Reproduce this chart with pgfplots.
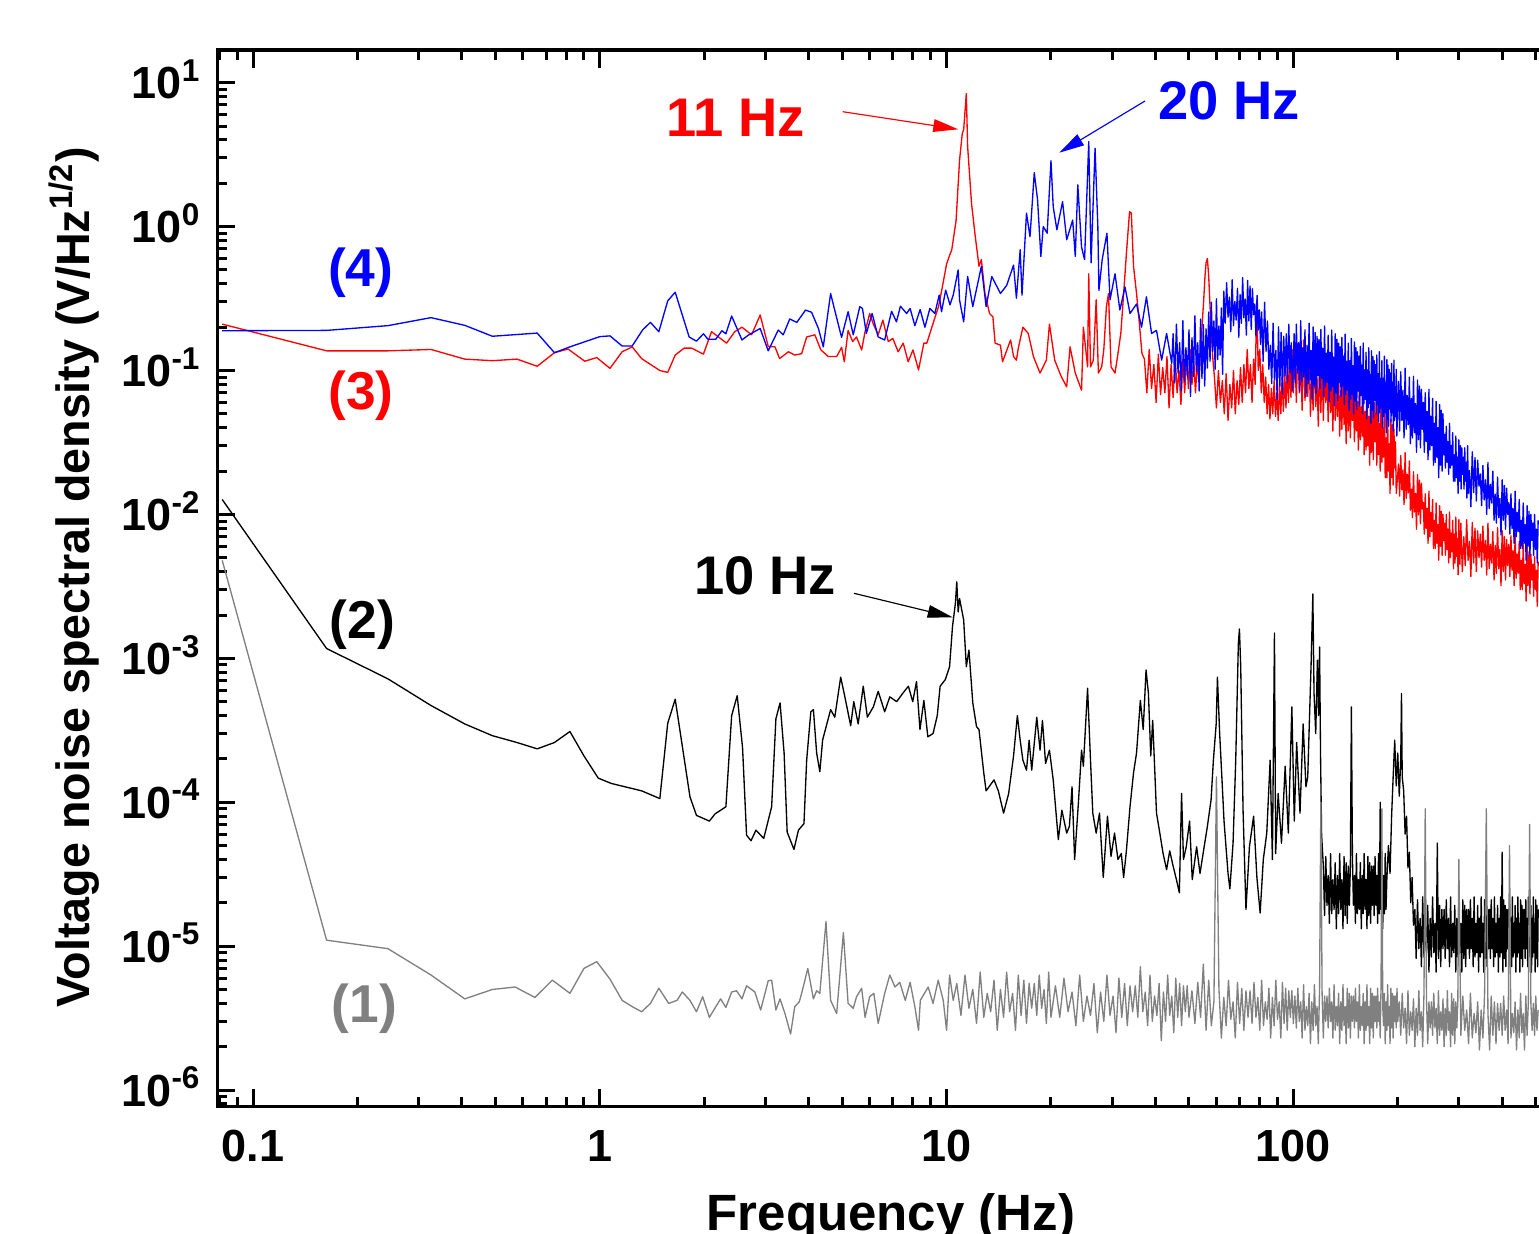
\documentclass[border=0pt]{standalone}
\usepackage{pgfplots}
\pgfplotsset{compat=1.18}
\usepackage{fontspec}
\setmainfont{Liberation Sans}
\usetikzlibrary{arrows.meta}
\definecolor{sgray}{RGB}{128,128,128}
\begin{document}
\begin{tikzpicture}
\begin{axis}[
  at={(0pt,0pt)}, anchor=south west,
  scale only axis, width=398.31pt, height=317.01pt,
  xmode=log, ymode=log,
  xmin=0.0789, xmax=531.6, ymin=7.66e-7, ymax=16.87,
  axis line style={line width=1pt},
  tick align=inside,
  major tick length=5.4pt, minor tick length=3pt,
  tick style={black, line width=0.9pt},
  ytick pos=left,
  xtick={0.1,1,10,100}, xticklabels={0.1,1,10,100},
  ytick={1e-6,1e-5,1e-4,1e-3,1e-2,1e-1,1,10},
  yticklabels={{10\textsuperscript{-6}},{10\textsuperscript{-5}},{10\textsuperscript{-4}},{10\textsuperscript{-3}},{10\textsuperscript{-2}},{10\textsuperscript{-1}},{10\textsuperscript{0}},{10\textsuperscript{1}}},
  minor xtick={0.08,0.09,0.2,0.3,0.4,0.5,0.6,0.7,0.8,0.9,2,3,4,5,6,7,8,9,20,30,40,50,60,70,80,90,200,300,400,500},
  minor ytick={8e-7,9e-7,2e-6,3e-6,4e-6,5e-6,6e-6,7e-6,8e-6,9e-6,2e-5,3e-5,4e-5,5e-5,6e-5,7e-5,8e-5,9e-5,2e-4,3e-4,4e-4,5e-4,6e-4,7e-4,8e-4,9e-4,2e-3,3e-3,4e-3,5e-3,6e-3,7e-3,8e-3,9e-3,0.02,0.03,0.04,0.05,0.06,0.07,0.08,0.09,0.2,0.3,0.4,0.5,0.6,0.7,0.8,0.9,2,3,4,5,6,7,8,9},
  ticklabel style={font=\fontsize{13.5}{16}\selectfont\bfseries},
  xticklabel style={anchor=base, yshift=-16.3pt},
  yticklabel style={anchor=base east, yshift=-4.83pt, xshift=-1.3pt},
  xlabel={Frequency (Hz)},
  xlabel style={at={(axis description cs:0.5074,-0.1167)}, anchor=base, font=\fontsize{15.3}{18}\selectfont\bfseries},
  ylabel={Voltage noise spectral density (V/Hz\textsuperscript{1/2})},
  ylabel style={at={(axis description cs:-0.0959,0.5008)}, rotate=0, anchor=base, font=\fontsize{14}{17}\selectfont\bfseries},
  every axis plot/.append style={mark=none, line width=0.4pt, line join=round},
]
% (2) black
\addplot[black] coordinates {
(0.0815,0.0127)(0.163,0.00117)(0.245,7.2e-4)(0.326,4.7e-4)(0.408,3.5e-4)(0.49,2.9e-4)(0.577,2.6e-4)(0.66,2.35e-4)(0.74,2.6e-4)(0.82,3.1e-4)(0.9,2.1e-4)(0.99,1.47e-4)(1.08,1.35e-4)(1.32,1.2e-4)(1.49,1.06e-4)(1.57,3.54e-4)(1.65,5.2e-4)(1.82,1.09e-4)(1.9,8.1e-5)(2.07,7.4e-5)(2.15,8.3e-5)(2.31,9.3e-5)(2.4,4.0e-4)(2.49,5.5e-4)(2.58,2.4e-4)(2.65,5.9e-5)(2.73,5.4e-5)(2.82,6.4e-5)(2.97,5.6e-5)(3.13,9.3e-5)(3.22,3.8e-4)(3.31,4.9e-4)(3.4,2.2e-4)(3.47,6.2e-5)(3.63,4.7e-5)(3.74,6.4e-5)(3.88,7.1e-5)(3.95,1.96e-4)(4.06,4.25e-4)(4.13,4.4e-4)(4.22,2.2e-4)(4.31,1.63e-4)(4.39,2.7e-4)(4.63,4.4e-4)(4.76,3.9e-4)(4.95,7.4e-4)(5.09,5.4e-4)(5.29,3.4e-4)(5.4,5.0e-4)(5.56,3.5e-4)(5.75,6.4e-4)(5.91,3.9e-4)(6.15,4.6e-4)(6.35,5.9e-4)(6.63,4.25e-4)(6.86,5.4e-4)(7.18,5.0e-4)(7.47,5.7e-4)(7.76,6.4e-4)(7.99,5.0e-4)(8.19,6.9e-4)(8.38,3.2e-4)(8.6,5.1e-4)(8.83,2.85e-4)(9.14,3.0e-4)(9.4,4.0e-4)(9.58,6.4e-4)(9.91,7.1e-4)(10.2,8.75e-4)(10.4,1.66e-3)(10.6,2.4e-3)(10.7,3.4e-3)(10.8,2.1e-3)(10.9,2.6e-3)(11.2,1.85e-3)(11.4,8.75e-4)(11.6,1.14e-3)(11.9,4.9e-4)(12.2,3.35e-4)(12.4,3.2e-4)(12.8,1.6e-4)(13.0,1.2e-4)(13.7,1.43e-4)(14.1,1.2e-4)(14.6,8.4e-5)(15.1,1.15e-4)(15.6,2.1e-4)(16.0,4.0e-4)(16.3,2.7e-4)(16.6,1.96e-4)(17.0,1.67e-4)(17.3,2.7e-4)(17.6,1.67e-4)(18.2,3.9e-4)(18.6,2.3e-4)(18.9,3.7e-4)(19.3,1.86e-4)(19.8,2.3e-4)(20.3,1.43e-4)(21.0,5.5e-5)(21.5,8.8e-5)(22.2,6.1e-5)(22.6,6.8e-5)(23.0,1.28e-4)(23.4,4.0e-5)(24.0,1.0e-4)(24.5,2.3e-4)(24.8,1.78e-4)(25.5,6.2e-4)(26.0,1.96e-4)(26.4,8.4e-5)(27.0,6.1e-5)(27.6,8.4e-5)(28.3,3.0e-5)(29.1,8.0e-5)(29.8,4.2e-5)(30.5,6.1e-5)(31.2,4.0e-5)(31.9,4.4e-5)(32.4,3.0e-5)(33.0,4.6e-5)(33.8,9.3e-5)(34.6,1.6e-4)(35.3,2.2e-4)(36.2,5.1e-4)(36.9,3.2e-4)(37.6,8.3e-4)(38.2,5.7e-4)(38.8,2.1e-4)(39.3,3.7e-4)(39.8,1.78e-4)(40.3,8.4e-5)(41.2,6.1e-5)(42.1,4.4e-5)(43.1,3.4e-5)(44.0,4.6e-5)(45.0,3.6e-5)(46.0,2.9e-5)(46.9,2.35e-5)(47.6,1.15e-4)(48.2,4.0e-5)(49.1,4.9e-5)(50.2,7.4e-5)(51.1,2.9e-5)(52.6,4.9e-5)(53.8,3.2e-5)(55.3,4.9e-5)(56.5,6.8e-5)(57.9,1.04e-4)(58.8,1.96e-4)(59.9,3.5e-4)(60.4,7.4e-4)(61.3,3.0e-4)(62.4,1.28e-4)(63.1,7.4e-5)(64.8,3.2e-5)(65.6,2.5e-5)(67.0,5.2e-5)(68.2,1.96e-4)(69.4,1.27e-3)(69.9,1.6e-3)(70.5,8.75e-4)(71.6,8.8e-5)(73.0,1.8e-5)(74.7,4.9e-5)(76.8,8.0e-5)(78.5,3.0e-5)(80.2,1.7e-5)(81.9,4.0e-5)(83.8,6.1e-5)(85.7,1.96e-4)(87.0,4.0e-5)(88.2,1.5e-3)(88.9,4.4e-5)(90.4,1.15e-4)(92.4,5.2e-5)(94.7,1.78e-4)(96.7,6.1e-5)(99,4.6e-4)(100.6,7.4e-5)(102.2,2.6e-4)(104.5,8.4e-5)(106.7,3.5e-4)(108.7,1.28e-4)(110,1.5e-4)(112.5,9.2e-4)(113.8,2.8e-3)(114.7,5.7e-4)(116,3.0e-4)(117.3,9.7e-4)(118.2,4e-4)(119,1.2e-3)(119.8,2e-4)(120.6,6e-5)
(122,3.6e-5)(123,1.63e-5)(124,4.2e-5)(125,1.92e-5)(126,3.1e-5)(127,1.44e-5)(128,4.4e-5)(129,1.68e-5)(130,2.9e-5)(131,1.8e-5)(132,3.8e-5)(133,1.32e-5)
(134,3.1e-5)(135,1.68e-5)(136,4.4e-5)(137,1.8e-5)(138,2.9e-5)(139,1.32e-5)(140,4.2e-5)(141,1.63e-5)(142,3.8e-5)(143,1.44e-5)(144,3.6e-5)(145,1.92e-5)
(146,3.6e-5)(147,4.6e-4)(148,4.2e-5)(149,1.92e-5)(150,3.1e-5)(151,1.44e-5)(152,4.4e-5)(153,1.68e-5)(154,2.9e-5)(155,1.8e-5)(156,3.8e-5)(157,1.32e-5)
(158,3.1e-5)(159,1.68e-5)(160,4.4e-5)(161,1.8e-5)(162,2.9e-5)(163,1.32e-5)(164,4.2e-5)(165,1.63e-5)(166,3.8e-5)(167,1.44e-5)(168,3.6e-5)(169,1.92e-5)
(170,3.6e-5)(171,1.63e-5)(172,4.2e-5)(173,1.92e-5)(174,3.1e-5)(175,1.44e-5)(176,4.4e-5)(177,1.68e-5)(178,1.0e-4)(179,1.8e-5)(180,3.8e-5)(181,1.32e-5)
(182,3.1e-5)(183,1.68e-5)(184,4.4e-5)(185,1.8e-5)(186,2.9e-5)
(188,5e-5)(190,3.2e-5)(192,8e-5)(194,1.5e-4)(196,2.7e-4)(198,1.3e-4)(200,2.2e-4)(202,1.1e-4)(204,2e-4)(205,5.7e-4)(206,1.5e-4)(208,1.2e-4)(210,6e-5)(212,8e-5)(214,3.5e-5)(216,4.5e-5)(218,2e-5)(220,3e-5)(222,1.4e-5)
(224,1.8e-5)(226,0.82e-5)(228,2.1e-5)(230,0.96e-5)(232,1.56e-5)(234,0.72e-5)(236,2.2e-5)(238,0.84e-5)(240,1.44e-5)(242,0.9e-5)(244,1.92e-5)(246,0.66e-5)
(248,1.56e-5)(250,0.84e-5)(252,2.2e-5)(254,0.9e-5)(256,1.44e-5)(258,0.66e-5)(260,5.2e-5)(262,0.82e-5)(264,1.92e-5)(266,0.72e-5)(268,1.8e-5)(270,0.96e-5)
(272,1.8e-5)(274,0.82e-5)(276,2.1e-5)(278,0.96e-5)(280,1.56e-5)(282,0.72e-5)(284,2.2e-5)(286,0.84e-5)(288,1.44e-5)(290,0.9e-5)(292,1.92e-5)(294,0.66e-5)
(296,1.56e-5)(298,0.84e-5)(300,2.2e-5)(302,0.9e-5)(304,1.44e-5)(306,0.66e-5)(308,2.1e-5)(310,0.82e-5)(312,1.92e-5)(314,0.72e-5)(316,1.8e-5)(318,0.96e-5)
(320,1.8e-5)(322,0.82e-5)(324,2.1e-5)(326,0.96e-5)(328,1.56e-5)(330,0.72e-5)(332,2.2e-5)(334,0.84e-5)(336,1.44e-5)(338,0.9e-5)(340,1.92e-5)(342,0.66e-5)
(344,1.56e-5)(346,0.84e-5)(348,2.2e-5)(350,0.9e-5)(352,1.44e-5)(354,0.66e-5)(356,2.1e-5)(358,0.82e-5)(360,1.92e-5)(362,0.72e-5)(364,1.8e-5)(366,0.96e-5)
(368,1.8e-5)(370,0.82e-5)(372,2.1e-5)(374,0.96e-5)(376,1.56e-5)(378,0.72e-5)(380,2.2e-5)(382,0.84e-5)(384,1.44e-5)(386,0.9e-5)(388,1.92e-5)(390,0.66e-5)
(392,1.56e-5)(394,0.84e-5)(396,2.2e-5)(398,0.9e-5)(400,4.5e-5)(402,0.66e-5)(404,2.1e-5)(406,0.82e-5)(408,1.92e-5)(410,0.72e-5)(412,1.8e-5)(414,0.96e-5)
(416,1.8e-5)(418,0.82e-5)(420,2.1e-5)(422,0.96e-5)(424,1.56e-5)(426,0.72e-5)(428,2.2e-5)(430,0.84e-5)(432,1.44e-5)(434,0.9e-5)(436,1.92e-5)(438,0.66e-5)
(440,1.56e-5)(442,0.84e-5)(444,2.2e-5)(446,0.9e-5)(448,1.44e-5)(450,0.66e-5)(452,2.1e-5)(454,0.82e-5)(456,1.92e-5)(458,0.72e-5)(460,1.8e-5)(462,0.96e-5)
(464,1.8e-5)(466,0.82e-5)(468,2.1e-5)(470,0.96e-5)(472,1.56e-5)(474,0.72e-5)(476,2.2e-5)(478,0.84e-5)(480,1.44e-5)(482,0.9e-5)(484,1.92e-5)(486,0.66e-5)
(488,1.56e-5)(490,0.84e-5)(492,2.2e-5)(494,0.9e-5)(496,1.44e-5)(498,0.66e-5)(500,2.1e-5)(502,0.82e-5)(504,1.92e-5)(506,0.72e-5)(508,1.8e-5)
};
% (1) gray
\addplot[sgray] coordinates {
(0.0815,4.8e-3)(0.163,1.1e-5)(0.245,9.6e-6)(0.326,6.3e-6)(0.408,4.3e-6)(0.49,5.0e-6)(0.57,5.2e-6)(0.65,4.4e-6)(0.73,5.8e-6)(0.82,4.7e-6)(0.9,7.0e-6)(0.98,7.8e-6)(1.07,5.9e-6)(1.16,4.2e-6)(1.24,3.8e-6)(1.32,3.5e-6)(1.40,4.0e-6)(1.48,5.1e-6)(1.58,4.0e-6)(1.67,4.2e-6)(1.73,4.8e-6)(1.82,4.2e-6)(1.9,3.5e-6)(1.98,4.45e-6)(2.07,3.2e-6)(2.23,4.3e-6)(2.31,3.75e-6)(2.4,4.8e-6)(2.48,4.9e-6)(2.57,4.3e-6)(2.65,5.3e-6)(2.80,4.8e-6)(2.91,3.6e-6)(3.06,5.75e-6)(3.13,5.8e-6)(3.22,3.6e-6)(3.31,4.3e-6)(3.42,3.4e-6)(3.55,2.45e-6)(3.65,3.8e-6)(3.76,4.1e-6)(3.82,4.7e-6)(3.98,7.0e-6)(4.13,4.3e-6)(4.22,4.9e-6)(4.31,4.7e-6)(4.49,1.48e-5)(4.63,4.2e-6)(4.82,3.4e-6)(5.04,1.24e-5)(5.2,4.0e-6)(5.38,3.7e-6)(5.5,4.45e-6)(5.69,5.1e-6)(5.82,3.2e-6)(6.0,4.45e-6)(6.17,4.7e-6)(6.35,2.9e-6)(6.63,4.7e-6)(6.86,6.3e-6)(7.1,5.2e-6)(7.33,5.6e-6)(7.6,4.2e-6)(7.85,5.6e-6)(8.1,3.8e-6)(8.3,2.6e-6)(8.4,4.2e-6)(8.85,5.2e-6)(9.14,4.0e-6)(9.46,5.8e-6)(9.78,4.2e-6)(10.0,2.6e-6)(10.2,6.3e-6)(10.45,4.2e-6)
(10.7,5.5e-6)(11.0,3.3e-6)(11.3,6.3e-6)(11.6,3.7e-6)(11.9,5.0e-6)(12.2,2.9e-6)(12.5,6.6e-6)(12.8,3.2e-6)(13.1,4.7e-6)(13.4,3.5e-6)(13.7,5.8e-6)(14.0,2.6e-6)
(14.3,5.0e-6)(14.6,3.2e-6)(14.9,6.6e-6)(15.2,3.5e-6)(15.5,4.7e-6)(15.8,2.6e-6)(16.1,6.3e-6)(16.4,3.3e-6)(16.7,5.8e-6)(17.0,2.9e-6)(17.3,5.5e-6)(17.6,3.7e-6)
(17.9,5.5e-6)(18.2,3.3e-6)(18.5,6.3e-6)(18.8,3.7e-6)(19.1,5.0e-6)(19.4,2.9e-6)(19.7,6.6e-6)(20.0,3.2e-6)
(20.6,5.3e-6)(21.2,3.2e-6)(21.8,6.0e-6)(22.4,3.5e-6)(23.0,4.8e-6)(23.6,2.8e-6)(24.2,6.3e-6)(24.8,3.0e-6)(25.4,4.5e-6)(26.0,3.3e-6)(26.6,5.5e-6)(27.2,2.5e-6)
(27.8,4.8e-6)(28.4,3.0e-6)(29.0,6.3e-6)(29.6,3.3e-6)(30.2,4.5e-6)(30.8,2.5e-6)(31.4,6.0e-6)(32.0,3.2e-6)(32.6,5.5e-6)(33.2,2.8e-6)(33.8,5.3e-6)(34.4,3.5e-6)
(35.0,5.3e-6)(35.6,3.2e-6)(36.2,7.2e-6)(36.8,3.5e-6)(37.4,4.8e-6)(38.0,2.8e-6)(38.6,6.3e-6)(39.2,3.0e-6)(39.8,4.5e-6)(40.4,3.3e-6)(41.0,5.5e-6)(41.6,2.2e-6)
(42.2,4.8e-6)(42.8,3.0e-6)(43.4,6.3e-6)(44.0,3.3e-6)(44.6,4.5e-6)(45.2,2.5e-6)(45.8,6.0e-6)(46.4,3.2e-6)(47.0,5.5e-6)(47.6,2.8e-6)(48.2,5.3e-6)(48.8,3.5e-6)
(49.4,5.3e-6)(50.0,3.2e-6)
(51,4.9e-6)(52,2.9e-6)(53,5.6e-6)(54,3.2e-6)(55,7.5e-6)(56,2.6e-6)(57,5.8e-6)(58,2.8e-6)(59,4.1e-6)(60,1.5e-4)(61,5.1e-6)(62,2.3e-6)
(63,4.4e-6)(64,2.8e-6)(65,5.8e-6)(66,3.1e-6)(67,4.1e-6)(68,2.3e-6)(69,5.6e-6)(70,2.9e-6)(71,5.1e-6)(72,2.6e-6)(73,4.9e-6)(74,3.2e-6)
(75,4.9e-6)(76,2.9e-6)(77,5.6e-6)(78,3.2e-6)(79,4.4e-6)(80,2.6e-6)(81,5.8e-6)(82,2.8e-6)(83,4.1e-6)(84,3.1e-6)(85,5.1e-6)(86,2.3e-6)
(87,4.4e-6)(88,2.8e-6)(89,5.8e-6)(90,3.1e-6)(91,4.1e-6)(92,2.3e-6)(93,5.6e-6)(94,2.9e-6)(95,5.1e-6)(96,2.6e-6)(97,4.9e-6)(98,3.2e-6)
(99,4.9e-6)(100,2.9e-6)
(101,4.5e-6)(102,2.7e-6)(103,5.1e-6)(104,3.0e-6)(105,4.1e-6)(106,2.3e-6)(107,5.4e-6)(108,2.6e-6)(109,3.8e-6)(110,2.8e-6)(111,4.7e-6)(112,2.1e-6)
(113,4.1e-6)(114,2.6e-6)(115,5.4e-6)(116,2.8e-6)(117,3.8e-6)(118,2.1e-6)(119,5.1e-6)(120,1.0e-4)(121,4.7e-6)(122,2.3e-6)(123,4.5e-6)(124,3.0e-6)
(125,4.5e-6)(126,2.7e-6)(127,5.1e-6)(128,3.0e-6)(129,4.1e-6)(130,2.3e-6)(131,5.4e-6)(132,2.6e-6)(133,3.8e-6)(134,2.8e-6)(135,4.7e-6)(136,2.1e-6)
(137,4.1e-6)(138,2.6e-6)(139,5.4e-6)(140,2.8e-6)(141,3.8e-6)(142,2.1e-6)(143,5.1e-6)(144,2.7e-6)(145,4.7e-6)(146,2.3e-6)(147,4.5e-6)(148,3.0e-6)
(149,4.5e-6)(150,2.7e-6)(151,5.1e-6)(152,3.0e-6)(153,4.1e-6)(154,2.3e-6)(155,5.4e-6)(156,2.6e-6)(157,3.8e-6)(158,2.8e-6)(159,4.7e-6)(160,2.1e-6)
(161,4.1e-6)(162,2.6e-6)(163,5.4e-6)(164,2.8e-6)(165,3.8e-6)(166,2.1e-6)(167,5.1e-6)(168,2.7e-6)(169,4.7e-6)(170,2.3e-6)(171,4.5e-6)(172,3.0e-6)
(173,4.5e-6)(174,2.7e-6)(175,5.1e-6)(176,3.0e-6)(177,4.1e-6)(178,2.3e-6)(179,5.4e-6)(180,9.0e-5)(181,3.8e-6)(182,2.8e-6)(183,4.7e-6)(184,2.1e-6)
(185,4.1e-6)(186,2.6e-6)(187,5.4e-6)(188,2.8e-6)(189,3.8e-6)(190,2.1e-6)(191,5.1e-6)(192,2.7e-6)(193,4.7e-6)(194,2.3e-6)(195,4.5e-6)(196,3.0e-6)
(197,4.5e-6)(198,2.7e-6)(199,5.1e-6)(200,3.0e-6)
(202,4.1e-6)(204,2.4e-6)(206,4.7e-6)(208,2.7e-6)(210,3.7e-6)(212,2.1e-6)(214,4.9e-6)(216,2.4e-6)(218,3.5e-6)(220,2.6e-6)(222,4.3e-6)(224,2.0e-6)
(226,3.7e-6)(228,2.4e-6)(230,4.9e-6)(232,2.6e-6)(234,3.5e-6)(236,2.0e-6)(238,4.7e-6)(240,9.0e-5)(242,4.3e-6)(244,2.1e-6)(246,4.1e-6)(248,2.7e-6)
(250,4.1e-6)(252,2.4e-6)(254,4.7e-6)(256,2.7e-6)(258,3.7e-6)(260,2.1e-6)(262,4.9e-6)(264,2.4e-6)(266,3.5e-6)(268,2.6e-6)(270,4.3e-6)(272,2.0e-6)
(274,3.7e-6)(276,2.4e-6)(278,4.9e-6)(280,2.6e-6)(282,3.5e-6)(284,2.0e-6)(286,4.7e-6)(288,2.4e-6)(290,4.3e-6)(292,2.1e-6)(294,4.1e-6)(296,2.7e-6)
(298,4.1e-6)(300,4.0e-5)(304,2.4e-6)(308,4.5e-6)(312,2.6e-6)(316,3.6e-6)(320,2.1e-6)(324,4.7e-6)(328,2.3e-6)(332,3.4e-6)(336,2.5e-6)(340,4.1e-6)(344,1.9e-6)
(348,3.6e-6)(352,2.3e-6)(356,4.7e-6)(360,9.0e-5)(364,3.4e-6)(368,1.9e-6)(372,4.5e-6)(376,2.4e-6)(380,4.1e-6)(384,2.1e-6)(388,4.0e-6)(392,2.6e-6)
(396,4.0e-6)(400,2.4e-6)(404,4.5e-6)(408,2.6e-6)(412,3.6e-6)(416,2.1e-6)(420,5.0e-5)(424,2.3e-6)(428,3.4e-6)(432,2.5e-6)(436,4.1e-6)(440,1.9e-6)
(444,3.6e-6)(448,2.3e-6)(452,4.7e-6)(456,2.5e-6)(460,3.4e-6)(464,1.9e-6)(468,4.5e-6)(472,2.4e-6)(476,4.1e-6)(480,7.0e-5)(484,4.0e-6)(488,2.6e-6)
(492,4.0e-6)(496,2.4e-6)(500,4.5e-6)(504,2.6e-6)(508,3.6e-6)
};
% (3) red
\addplot[red] coordinates {
(0.0815,0.21)(0.163,0.137)(0.245,0.137)(0.326,0.14)(0.408,0.12)(0.49,0.117)(0.577,0.12)(0.66,0.107)(0.74,0.133)(0.81,0.141)(0.905,0.116)(0.98,0.123)(1.07,0.1035)(1.16,0.135)(1.24,0.146)(1.32,0.121)(1.41,0.109)(1.49,0.1)(1.57,0.097)(1.65,0.128)(1.75,0.143)(1.84,0.143)(1.99,0.13)(2.10,0.186)(2.20,0.171)(2.32,0.155)(2.45,0.186)(2.57,0.2)(2.74,0.177)(2.90,0.243)(3.06,0.147)(3.2,0.146)(3.3,0.121)(3.5,0.135)(3.65,0.128)(3.82,0.131)(3.95,0.171)(4.17,0.177)(4.34,0.139)(4.56,0.125)(4.82,0.125)(4.98,0.145)(5.07,0.115)(5.2,0.19)(5.36,0.159)(5.5,0.171)(5.69,0.139)(5.82,0.186)(6.0,0.249)(6.15,0.21)(6.35,0.177)(6.55,0.224)(6.79,0.159)(7.0,0.167)(7.25,0.135)(7.5,0.155)(7.75,0.115)(8.0,0.139)(8.3,0.101)(8.6,0.155)(8.77,0.155)(9.07,0.2)(9.27,0.236)(9.48,0.278)(9.76,0.4)(10.0,0.55)(10.2,0.63)(10.35,0.69)(10.65,1.1)(10.9,2.9)(11.1,4.45)(11.2,4.7)(11.4,8.4)(11.5,3.6)(11.8,1.45)(12.1,0.85)(12.4,0.53)(12.6,0.59)(12.9,0.343)(13.3,0.249)(13.6,0.236)(13.8,0.155)(14.3,0.15)(14.5,0.115)(15.1,0.15)(15.3,0.163)(15.6,0.125)(15.9,0.118)(16.1,0.143)(16.6,0.2)(17.2,0.181)(17.8,0.125)(18.6,0.096)(19.4,0.118)(19.8,0.21)(20.5,0.118)(21.4,0.091)(22.2,0.077)(22.7,0.146)(23.5,0.096)(24.5,0.073)(24.8,0.2)(25.5,0.106)(25.7,0.47)(26.0,0.106)(26.5,0.118)(27.0,0.31)(27.4,0.096)(28.0,0.106)(28.4,0.139)(28.9,0.278)(29.3,0.343)(29.8,0.106)(30.6,0.096)(31.2,0.131)(31.8,0.181)(32.5,0.38)(33.0,0.65)(33.7,1.27)(34.1,1.24)(34.6,0.53)(35.3,0.343)(35.9,0.224)(36.6,0.131)
(37.2,0.12)(37.8,0.07)(38.4,0.14)(39.0,0.075)(39.6,0.11)(40.2,0.06)(40.8,0.13)(41.4,0.068)(42.0,0.105)(42.6,0.07)(43.2,0.125)(43.8,0.055)(44.4,0.11)(45.0,0.065)(45.6,0.13)(46.2,0.07)(46.8,0.1)(47.4,0.058)(48.0,0.12)(48.6,0.07)(49.2,0.13)(49.8,0.075)(50.4,0.14)(51.0,0.08)(51.6,0.12)(52.2,0.07)(52.8,0.11)(53.4,0.085)(54.0,0.15)(54.5,0.2)(55.1,0.3)(55.6,0.45)(56.0,0.56)(56.5,0.6)(57.0,0.45)(57.5,0.28)(58.0,0.18)(58.6,0.12)
(59.2,0.09)(60.0,0.055)(60.8,0.1)(61.6,0.06)(62.4,0.085)(63.2,0.05)(64.0,0.095)(64.8,0.045)(65.6,0.08)(66.4,0.055)(67.2,0.1)(68.0,0.05)(68.8,0.085)(69.6,0.058)(70.4,0.105)(71.2,0.06)(72.0,0.11)(72.8,0.07)(73.6,0.14)(74.4,0.075)(75.2,0.11)(76.0,0.06)(76.8,0.12)(77.6,0.08)(78.4,0.31)(79.2,0.1)(80.0,0.14)(80.8,0.07)(81.6,0.11)(82.4,0.06)(83.2,0.09)(84.0,0.05)(84.8,0.08)(85.6,0.046)(86.4,0.075)(87.2,0.05)(88.0,0.085)(88.8,0.048)(89.6,0.07)(90.4,0.045)(91.2,0.08)(92.0,0.05)(92.8,0.09)(93.6,0.052)(94.4,0.1)(95.2,0.055)(96.0,0.11)(96.8,0.06)(97.6,0.12)(98.4,0.065)(99.2,0.14)(100.0,0.07)
(101,0.132)(102,0.06)(103,0.154)(104,0.07)(105,0.114)(106,0.053)(107,0.163)(108,0.062)(109,0.106)(110,0.066)(111,0.141)(112,0.048)
(113,0.098)(114,0.053)(115,0.139)(116,0.056)(117,0.09)(118,0.041)(119,0.131)(120,0.051)(121,0.12)(122,0.045)(123,0.113)(124,0.06)
(125,0.096)(126,0.044)(127,0.112)(128,0.051)(129,0.083)(130,0.038)(131,0.118)(132,0.045)(133,0.077)(134,0.048)(135,0.102)(136,0.035)
(137,0.073)(138,0.039)(139,0.104)(140,0.042)(141,0.067)(142,0.031)(143,0.098)(144,0.038)(145,0.09)(146,0.034)(147,0.084)(148,0.045)
(149,0.071)(150,0.032)(151,0.082)(152,0.038)(153,0.061)(154,0.028)(155,0.087)(156,0.033)(157,0.056)(158,0.035)(159,0.075)(160,0.026)
(161,0.052)(162,0.028)(163,0.074)(164,0.03)(165,0.048)(166,0.022)(167,0.07)(168,0.027)(169,0.064)(170,0.024)(171,0.06)(172,0.032)
(173,0.05)(174,0.022)(175,0.058)(176,0.026)(177,0.043)(178,0.02)(179,0.061)(180,0.023)(181,0.04)(182,0.025)(183,0.053)(184,0.018)
(185,0.034)(186,0.018)(187,0.048)(188,0.02)(189,0.031)(190,0.014)(191,0.046)(192,0.018)(193,0.042)(194,0.016)(195,0.039)(196,0.021)
(197,0.032)(198,0.014)
(201,0.0224)(202.5,0.0134)(204,0.0257)(205.5,0.0148)(207,0.0204)(208.5,0.0117)(210,0.0269)(211.5,0.0129)(213,0.019)(214.5,0.0141)(216,0.0235)(217.5,0.0107)
(219,0.015)(220.5,0.0095)(222,0.0198)(223.5,0.0104)(225,0.014)(226.5,0.0079)(228,0.0189)(229.5,0.0099)(231,0.0173)(232.5,0.0086)(234,0.0165)(235.5,0.0109)
(237,0.0121)(238.5,0.0073)(240,0.0139)(241.5,0.008)(243,0.011)(244.5,0.0063)(246,0.0145)(247.5,0.007)(249,0.0103)(250.5,0.0076)(252,0.0127)(253.5,0.0058)
(255,0.0091)(256.5,0.0058)(258,0.012)(259.5,0.0063)(261,0.0085)(262.5,0.0048)(264,0.0115)(265.5,0.006)(267,0.0105)(268.5,0.0052)(270,0.01)(271.5,0.0066)
(273,0.0087)(274.5,0.0052)(276,0.01)(277.5,0.0057)(279,0.0079)(280.5,0.0046)(282,0.0104)(283.5,0.005)(285,0.0074)(286.5,0.0055)(288,0.0091)(289.5,0.0042)
(291,0.0073)(292.5,0.0046)(294,0.0096)(295.5,0.0051)(297,0.0068)(298.5,0.0038)(300,0.0092)(302,0.0045)(304,0.0087)(307,0.004)
(310,0.007)(313,0.0044)(316,0.0092)(319,0.0048)(322,0.0065)(325,0.0037)(328,0.0088)(331,0.0046)(334,0.008)(337,0.004)(340,0.0077)(343,0.005)
(346,0.0073)(349,0.0043)(352,0.0083)(355,0.0048)(358,0.0066)(361,0.0038)(364,0.0087)(367,0.0042)(370,0.0062)(373,0.0046)(376,0.0076)(379,0.0035)
(382,0.0061)(385,0.0039)(388,0.0081)(391,0.0042)(394,0.0057)(397,0.0032)(400,0.0077)(403,0.004)(406,0.007)(409,0.0035)(412,0.0067)(415,0.0044)
(418,0.0062)(421,0.0037)(424,0.0071)(427,0.0041)(430,0.0056)(433,0.0032)(436,0.0074)(439,0.0036)(442,0.0053)(445,0.0039)(448,0.0065)(451,0.003)
(454,0.0048)(457,0.003)(460,0.0063)(463,0.0033)(466,0.0045)(469,0.0025)(472,0.006)(475,0.0032)(478,0.0055)(481,0.0028)(484,0.0053)(487,0.0035)
(490,0.0045)(493,0.0027)(496,0.0051)(499,0.003)(502,0.0041)(505,0.0023)(508,0.0047)
};
% (4) blue
\addplot[blue] coordinates {
(0.0815,0.189)(0.163,0.19)(0.245,0.205)(0.326,0.233)(0.408,0.206)(0.49,0.173)(0.66,0.182)(0.74,0.133)(0.82,0.146)(1.0,0.172)(1.07,0.174)(1.16,0.148)(1.24,0.148)(1.33,0.192)(1.40,0.216)(1.48,0.186)(1.57,0.305)(1.65,0.35)(1.81,0.171)(1.90,0.160)(1.99,0.18)(2.05,0.165)(2.16,0.165)(2.25,0.189)(2.31,0.18)(2.40,0.239)(2.57,0.163)(2.68,0.176)(2.90,0.196)(3.06,0.137)(3.27,0.191)(3.38,0.177)(3.53,0.228)(3.70,0.216)(3.92,0.263)(4.08,0.254)(4.27,0.196)(4.41,0.146)(4.63,0.343)(4.73,0.278)(4.98,0.17)(5.2,0.256)(5.38,0.177)(5.62,0.278)(5.72,0.27)(5.87,0.181)(6.1,0.249)(6.35,0.171)(6.63,0.163)(6.94,0.258)(7.17,0.218)(7.36,0.28)(7.67,0.249)(7.85,0.27)(8.1,0.205)(8.39,0.265)(8.66,0.2)(8.95,0.27)(9.25,0.249)(9.52,0.334)(9.67,0.256)(9.94,0.362)(10.23,0.286)(10.45,0.334)(10.8,0.50)(10.9,0.309)(11.2,0.218)(11.5,0.45)(11.9,0.278)(12.6,0.53)(13.0,0.278)(13.5,0.45)(14.3,0.343)(14.9,0.39)(15.6,0.54)(15.9,0.318)(16.3,0.69)(16.5,0.334)(17.0,1.24)(17.4,0.85)(17.9,2.37)(18.3,1.53)(18.7,0.62)(19.0,1.0)(19.5,0.9)(20.0,2.87)(20.3,1.37)(20.8,0.95)(21.6,1.49)(22.2,0.81)(23.1,1.11)(23.5,0.62)(23.9,1.95)(24.5,0.72)(25.0,0.59)(25.7,3.9)(26.1,0.56)(26.8,3.5)(27.3,1.0)(27.5,0.36)(28.1,0.59)(29.0,0.9)(29.6,0.31)(30.6,0.47)(31.6,0.263)(32.7,0.38)(33.8,0.249)(35.3,0.29)(36.5,0.2)(37.7,0.325)(39.0,0.181)(40.3,0.19)(41.7,0.118)(43.1,0.181)(44.6,0.112)
(45.0,0.18)(45.5,0.082)(46.0,0.21)(46.5,0.096)(47.0,0.156)(47.5,0.072)(48.0,0.222)(48.5,0.084)(49.0,0.144)(49.5,0.09)(50.0,0.192)(50.5,0.066)
(51.0,0.169)(51.5,0.091)(52.0,0.24)(52.5,0.098)(53.0,0.156)(53.5,0.072)(54.0,0.228)(54.5,0.088)(55.0,0.208)(55.5,0.078)(56.0,0.195)(56.5,0.104)
(57.0,0.255)(57.5,0.116)(58.0,0.298)(58.5,0.136)(59.0,0.221)(59.5,0.102)(60.0,0.315)(60.5,0.119)(61.0,0.204)(61.5,0.128)(62.0,0.272)(62.5,0.094)
(63.0,0.356)(63.6,0.213)(64.2,0.408)(64.8,0.235)(65.4,0.324)(66.0,0.186)(66.6,0.427)(67.2,0.205)(67.8,0.302)(68.4,0.224)(69.0,0.373)(69.6,0.17)
(70.2,0.336)(70.8,0.213)(71.4,0.442)(72.0,0.232)(72.6,0.314)(73.2,0.176)(73.8,0.423)(74.4,0.221)(75.0,0.386)(75.6,0.193)(76.2,0.37)(76.8,0.244)
(77.4,0.29)(78.0,0.174)(78.6,0.332)(79.2,0.191)(79.8,0.264)(80.4,0.152)
(81.0,0.255)(81.8,0.116)(82.6,0.298)(83.4,0.136)(84.2,0.221)(85.0,0.102)
(85.8,0.15)(86.6,0.081)(87.4,0.213)(88.2,0.086)(89.0,0.138)(89.8,0.063)(90.6,0.201)(91.4,0.078)(92.2,0.184)(93.0,0.069)(93.8,0.173)(94.6,0.092)
(95.4,0.18)(96.2,0.082)(97.0,0.21)(97.8,0.096)(98.6,0.156)(99.4,0.072)
(100.5,0.18)(101.25,0.082)(102,0.21)(102.75,0.096)(103.5,0.156)(104.25,0.072)(105,0.222)(105.75,0.084)(106.5,0.144)(107.25,0.09)(108,0.192)(108.75,0.066)
(109.5,0.15)(110.25,0.081)(111,0.213)(111.75,0.086)(112.5,0.138)(113.25,0.063)(114,0.201)(114.75,0.078)(115.5,0.184)(116.25,0.069)(117,0.173)(117.75,0.092)
(118.5,0.165)(119.25,0.075)(120,0.193)(120.75,0.088)(121.5,0.143)(122.25,0.066)(123,0.204)(123.75,0.077)(124.5,0.132)(125.25,0.083)(126,0.176)(126.75,0.061)
(127.5,0.134)(128.25,0.072)(129,0.191)(129.75,0.077)(130.5,0.124)(131.25,0.057)(132,0.18)(132.75,0.07)(133.5,0.165)(134.25,0.062)(135,0.155)(135.75,0.082)
(136.5,0.146)(137.25,0.066)(138,0.17)(138.75,0.078)(139.5,0.126)(140.25,0.058)(141,0.179)(141.75,0.068)(142.5,0.116)(143.25,0.073)(144,0.155)(144.75,0.053)
(145.5,0.117)(146.25,0.063)(147,0.167)(147.75,0.068)(148.5,0.108)(149.25,0.05)(150,0.158)(150.75,0.061)(151.5,0.144)(152.25,0.054)(153,0.135)(153.75,0.072)
(154.5,0.126)(155.25,0.057)(156,0.147)(156.75,0.067)(157.5,0.109)(158.25,0.05)(159,0.155)(159.75,0.059)(160.5,0.101)(161.25,0.063)(162,0.134)(162.75,0.046)
(163.5,0.101)(164.25,0.055)(165,0.144)(165.75,0.059)(166.5,0.094)(167.25,0.043)(168,0.137)(168.75,0.053)(169.5,0.125)(170.25,0.047)(171,0.117)(171.75,0.062)
(172.5,0.11)(173.25,0.05)(174,0.128)(174.75,0.058)(175.5,0.095)(176.25,0.044)(177,0.135)(177.75,0.051)(178.5,0.088)(179.25,0.055)(180,0.117)(180.75,0.04)
(181.5,0.088)(182.25,0.048)(183,0.126)(183.75,0.051)(184.5,0.082)(185.25,0.037)(186,0.119)(186.75,0.046)(187.5,0.109)(188.25,0.041)(189,0.102)(189.75,0.054)
(190.5,0.096)(191.25,0.044)(192,0.112)(192.75,0.051)(193.5,0.083)(194.25,0.038)(195,0.118)(195.75,0.045)(196.5,0.077)(197.25,0.048)(198,0.102)(198.75,0.035)
(201,0.084)(202.5,0.038)(204,0.098)(205.5,0.045)(207,0.073)(208.5,0.034)(210,0.104)(211.5,0.039)(213,0.067)(214.5,0.042)(216,0.09)(217.5,0.031)
(219,0.064)(220.5,0.034)(222,0.091)(223.5,0.037)(225,0.059)(226.5,0.027)(228,0.086)(229.5,0.033)(231,0.078)(232.5,0.029)(234,0.074)(235.5,0.039)
(237,0.06)(238.5,0.027)(240,0.07)(241.5,0.032)(243,0.052)(244.5,0.024)(246,0.074)(247.5,0.028)(249,0.048)(250.5,0.03)(252,0.064)(253.5,0.022)
(255,0.043)(256.5,0.023)(258,0.061)(259.5,0.025)(261,0.04)(262.5,0.018)(264,0.058)(265.5,0.022)(267,0.053)(268.5,0.02)(270,0.05)(271.5,0.026)
(273,0.036)(274.5,0.021)(276,0.041)(277.5,0.023)(279,0.032)(280.5,0.019)(282,0.043)(283.5,0.021)(285,0.03)(286.5,0.022)(288,0.037)(289.5,0.017)
(291,0.026)(292.5,0.017)(294,0.035)(295.5,0.018)(297,0.025)(298.5,0.014)(300,0.033)(301.5,0.017)(303,0.03)(304.5,0.015)(306,0.029)(307.5,0.019)
(309,0.025)(310.5,0.015)(312,0.029)(313.5,0.017)(315,0.023)(316.5,0.013)(318,0.03)(319.5,0.014)
(322,0.0202)(325,0.0113)(328,0.0272)(331,0.0142)(334,0.0248)(337,0.0124)(340,0.0238)(343,0.0157)
(346,0.0191)(349,0.0115)(352,0.0219)(355,0.0126)(358,0.0174)(361,0.01)(364,0.0229)(367,0.011)(370,0.0162)(373,0.012)(376,0.02)(379,0.0091)
(382,0.0138)(385,0.0087)(388,0.0182)(391,0.0095)(394,0.0129)(397,0.0072)(400,0.0174)(403,0.0091)(406,0.0159)(409,0.0079)(412,0.0152)(415,0.01)
(418,0.0121)(421,0.0073)(424,0.0139)(427,0.008)(430,0.011)(433,0.0063)(436,0.0145)(439,0.007)(442,0.0103)(445,0.0076)(448,0.0127)(451,0.0058)
(454,0.0091)(457,0.0058)(460,0.012)(463,0.0063)(466,0.0085)(469,0.0048)(472,0.0115)(475,0.006)(478,0.0105)(481,0.0052)(484,0.01)(487,0.0066)
(490,0.0087)(493,0.0052)(496,0.01)(499,0.0057)(502,0.0079)(505,0.0046)(508,0.0091)
};
\end{axis}
% annotations
\node[anchor=base, text=red, font=\fontsize{16.3}{19}\selectfont\bfseries] at (155.46pt,290.91pt) {11 Hz};
\draw[red, line width=0.35pt, -{Triangle[length=7.5pt,width=3.8pt]}] (187.62pt,298.5pt) -- (222.3pt,293.22pt);
\node[anchor=base, text=blue, font=\fontsize{16.3}{19}\selectfont\bfseries] at (303.57pt,296.01pt) {20 Hz};
\draw[blue, line width=0.35pt, -{Triangle[length=7.5pt,width=3.8pt]}] (278.31pt,301.71pt) -- (252.6pt,286.2pt);
\node[anchor=base, text=black, font=\fontsize{16.3}{19}\selectfont\bfseries] at (164.31pt,153.51pt) {10 Hz};
\draw[black, line width=0.35pt, -{Triangle[length=7.5pt,width=3.8pt]}] (191.01pt,154.02pt) -- (220.62pt,146.82pt);
\node[anchor=base, text=blue, font=\fontsize{16}{19}\selectfont\bfseries] at (43.05pt,246.0pt) {(4)};
\node[anchor=base, text=red, font=\fontsize{16}{19}\selectfont\bfseries] at (43.11pt,209.01pt) {(3)};
\node[anchor=base, text=black, font=\fontsize{16}{19}\selectfont\bfseries] at (43.56pt,140.61pt) {(2)};
\node[anchor=base, text=sgray, font=\fontsize{16}{19}\selectfont\bfseries] at (44.16pt,25.11pt) {(1)};
\pgfresetboundingbox
\path[use as bounding box] (-65.19pt,-38.19pt) rectangle (396.51pt,332.01pt);
\end{tikzpicture}
\end{document}
